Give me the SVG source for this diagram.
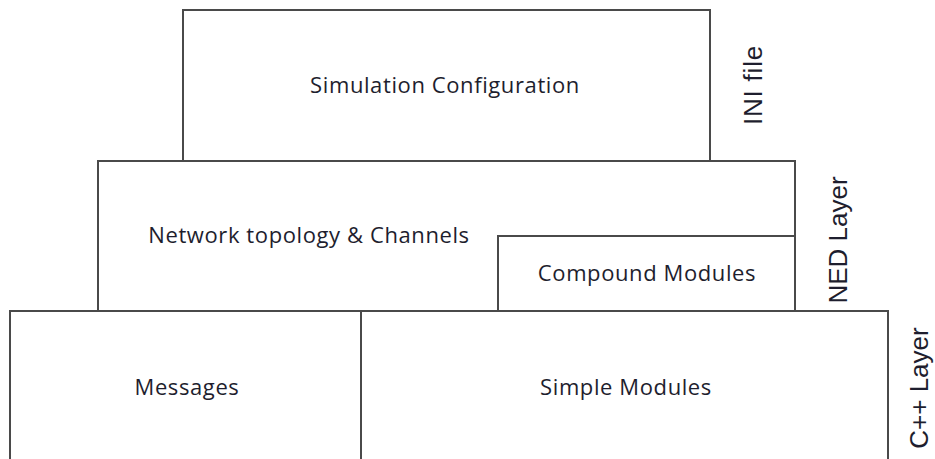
<svg xmlns="http://www.w3.org/2000/svg" width="935" height="459" viewBox="0 0 935 459">
  <style>
    .box { fill: #ffffff; stroke: #4a4a4a; stroke-width: 2; }
    .lbl { font-family: "Open Sans", "Liberation Sans", sans-serif; font-size: 22px; letter-spacing: 0.6px; fill: #1e1e2e; text-anchor: middle; }
    .side { font-family: "Liberation Sans", Arial, sans-serif; font-size: 26px; fill: #1e1e2e; text-anchor: middle; }
  </style>
  <rect width="935" height="459" fill="#ffffff"/>
  <g id="simulation-configuration">
    <rect class="box" x="183" y="10" width="527" height="151"/>
    <text class="lbl" x="445" y="93">Simulation Configuration</text>
  </g>
  <g id="network-topology">
    <rect class="box" x="98" y="161" width="697" height="150"/>
    <text class="lbl" x="309" y="243">Network topology &amp; Channels</text>
  </g>
  <g id="compound-modules">
    <rect class="box" x="498" y="236" width="297" height="75"/>
    <text class="lbl" x="647" y="281">Compound Modules</text>
  </g>
  <g id="messages">
    <rect class="box" x="10" y="311" width="351" height="160"/>
    <text class="lbl" x="187" y="395">Messages</text>
  </g>
  <g id="simple-modules">
    <rect class="box" x="361" y="311" width="527" height="160"/>
    <text class="lbl" x="626" y="395">Simple Modules</text>
  </g>
  <g id="layer-labels">
    <text class="side" letter-spacing="0.8" transform="translate(762 85) rotate(-90)">INI file</text>
    <text class="side" transform="translate(847 240) rotate(-90)">NED Layer</text>
    <text class="side" transform="translate(928 388) rotate(-90)">C++ Layer</text>
  </g>
  <g id="connectors"/>
</svg>
